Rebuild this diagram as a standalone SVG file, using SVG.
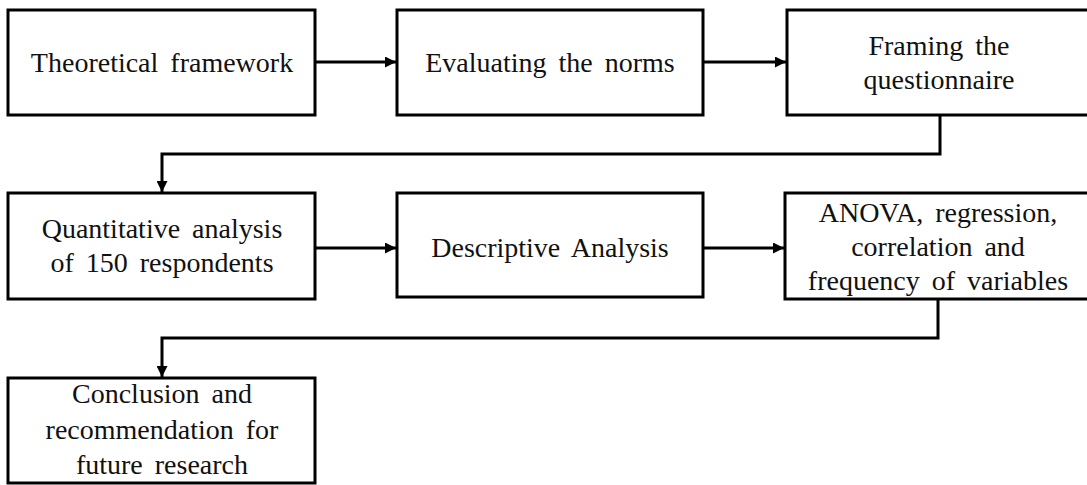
<svg xmlns="http://www.w3.org/2000/svg" width="1087" height="485" viewBox="0 0 1087 485">
<style>
.box{fill:#fff;stroke:#000;stroke-width:3}
.t{font-family:"Liberation Serif","Times New Roman",serif;font-size:28px;fill:#111;text-anchor:middle;word-spacing:5px}
.c{fill:none;stroke:#000;stroke-width:3}
</style>
<defs>
<marker id="ah" viewBox="0 0 10 10" refX="10" refY="5" markerWidth="11" markerHeight="11" markerUnits="userSpaceOnUse" orient="auto">
<path d="M0,0 L10,5 L0,10 z" fill="#000"/>
</marker>
</defs>
<rect width="1087" height="485" fill="#fff"/>
<g id="connectors">
<line class="c" x1="315" y1="62" x2="396" y2="62" marker-end="url(#ah)"/>
<line class="c" x1="703" y1="62" x2="786" y2="62" marker-end="url(#ah)"/>
<polyline class="c" points="940,115 940,154 162,154 162,192" marker-end="url(#ah)"/>
<line class="c" x1="315" y1="248" x2="396" y2="248" marker-end="url(#ah)"/>
<line class="c" x1="703" y1="248" x2="784" y2="248" marker-end="url(#ah)"/>
<polyline class="c" points="938,299 938,338 162,338 162,377" marker-end="url(#ah)"/>
</g>
<g id="n1">
<rect class="box" x="8" y="10" width="307" height="105"/>
<text class="t" x="162" y="72">Theoretical framework</text>
</g>
<g id="n2">
<rect class="box" x="397" y="10" width="306" height="105"/>
<text class="t" x="550" y="72">Evaluating the norms</text>
</g>
<g id="n3">
<rect class="box" x="787" y="10" width="305" height="105"/>
<text class="t" x="939" y="55">Framing the</text>
<text class="t" x="939" y="89">questionnaire</text>
</g>
<g id="n4">
<rect class="box" x="8" y="193" width="307" height="106"/>
<text class="t" x="162" y="238">Quantitative analysis</text>
<text class="t" x="162" y="272">of 150 respondents</text>
</g>
<g id="n5">
<rect class="box" x="397" y="193" width="306" height="104"/>
<text class="t" x="550" y="257">Descriptive Analysis</text>
</g>
<g id="n6">
<rect class="box" x="785" y="193" width="307" height="106"/>
<text class="t" x="938" y="222">ANOVA, regression,</text>
<text class="t" x="938" y="256">correlation and</text>
<text class="t" x="938" y="290">frequency of variables</text>
</g>
<g id="n7">
<rect class="box" x="8" y="378" width="307" height="105"/>
<text class="t" x="162" y="403">Conclusion and</text>
<text class="t" x="162" y="439">recommendation for</text>
<text class="t" x="162" y="474">future research</text>
</g>
</svg>
